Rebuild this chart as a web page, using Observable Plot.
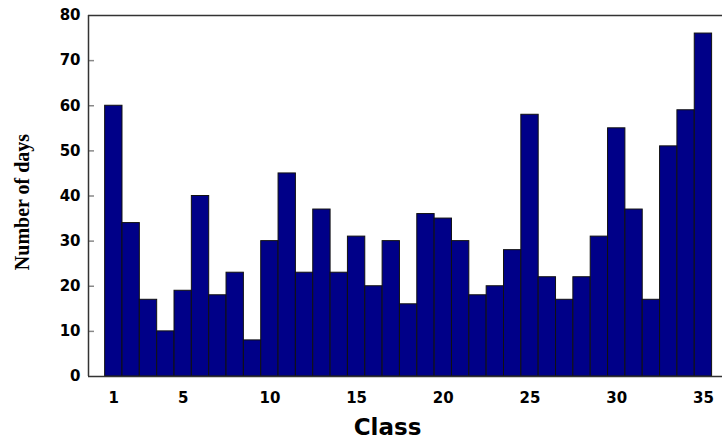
<!DOCTYPE html>
<html>
<head>
<meta charset="utf-8">
<script src="https://cdn.jsdelivr.net/npm/d3@7"></script>
<script src="https://cdn.jsdelivr.net/npm/@observablehq/plot@0.6"></script>
<style>
  html, body { margin: 0; padding: 0; background: #fff; }
</style>
</head>
<body>
<div id="chart"></div>
<script>
const classes = d3.range(1, 36);
const days = [60, 34, 17, 10, 19, 40, 18, 23, 8, 30, 45, 23, 37, 23, 31, 20, 30, 16, 36, 35, 30, 18, 20, 28, 58, 22, 17, 22, 31, 55, 37, 17, 51, 59, 76];
const xTicks = [1, 5, 10, 15, 20, 25, 30, 35];
const yTicks = [0, 10, 20, 30, 40, 50, 60, 70, 80];
const innerTicks = [10, 20, 30, 40, 50, 60, 70];
const xLabel = "Class";
const yLabel = "Number of days";

const data = classes.map((c, i) => ({cls: c, days: days[i]}));
const W = 722, H = 439, mL = 88;
const xMin = -0.46, xMax = 36.1;

const chart = Plot.plot({
  width: W,
  height: H,
  marginLeft: mL,
  marginRight: 0,
  marginTop: 15,
  marginBottom: 63,
  style: {fontFamily: "'DejaVu Sans', sans-serif", fontWeight: "bold", fontSize: "15px", color: "#000", background: "#fff"},
  x: {type: "linear", domain: [xMin, xMax]},
  y: {domain: [0, 80]},
  marks: [
    Plot.rectY(data, {x1: d => d.cls - 0.5, x2: d => d.cls + 0.5, y: "days", fill: "#000088", stroke: "#111", strokeWidth: 1}),
    Plot.ruleY(innerTicks, {stroke: "#888", strokeWidth: 1.5, insetRight: W - mL - 6}),
    Plot.ruleY([0, 80], {stroke: "#333", strokeWidth: 1.5}),
    Plot.ruleX([xMin], {stroke: "#333", strokeWidth: 1.5}),
    Plot.axisY({ticks: yTicks, tickSize: 0, tickPadding: 8, label: null, fontSize: 15}),
    Plot.axisX({ticks: xTicks, tickSize: 0, tickPadding: 16, label: null, fontSize: 15}),
    Plot.text([xLabel], {frameAnchor: "bottom", lineAnchor: "bottom", dy: 58, dx: -18, fontSize: 23, fontWeight: "bold"}),
    Plot.text([yLabel], {frameAnchor: "left", textAnchor: "middle", rotate: -90, dx: -66, dy: 6, fontSize: 20, fontWeight: "bold", fontFamily: "'Times New Roman', 'Liberation Serif', serif"})
  ]
});
document.getElementById("chart").appendChild(chart);
</script>
</body>
</html>
